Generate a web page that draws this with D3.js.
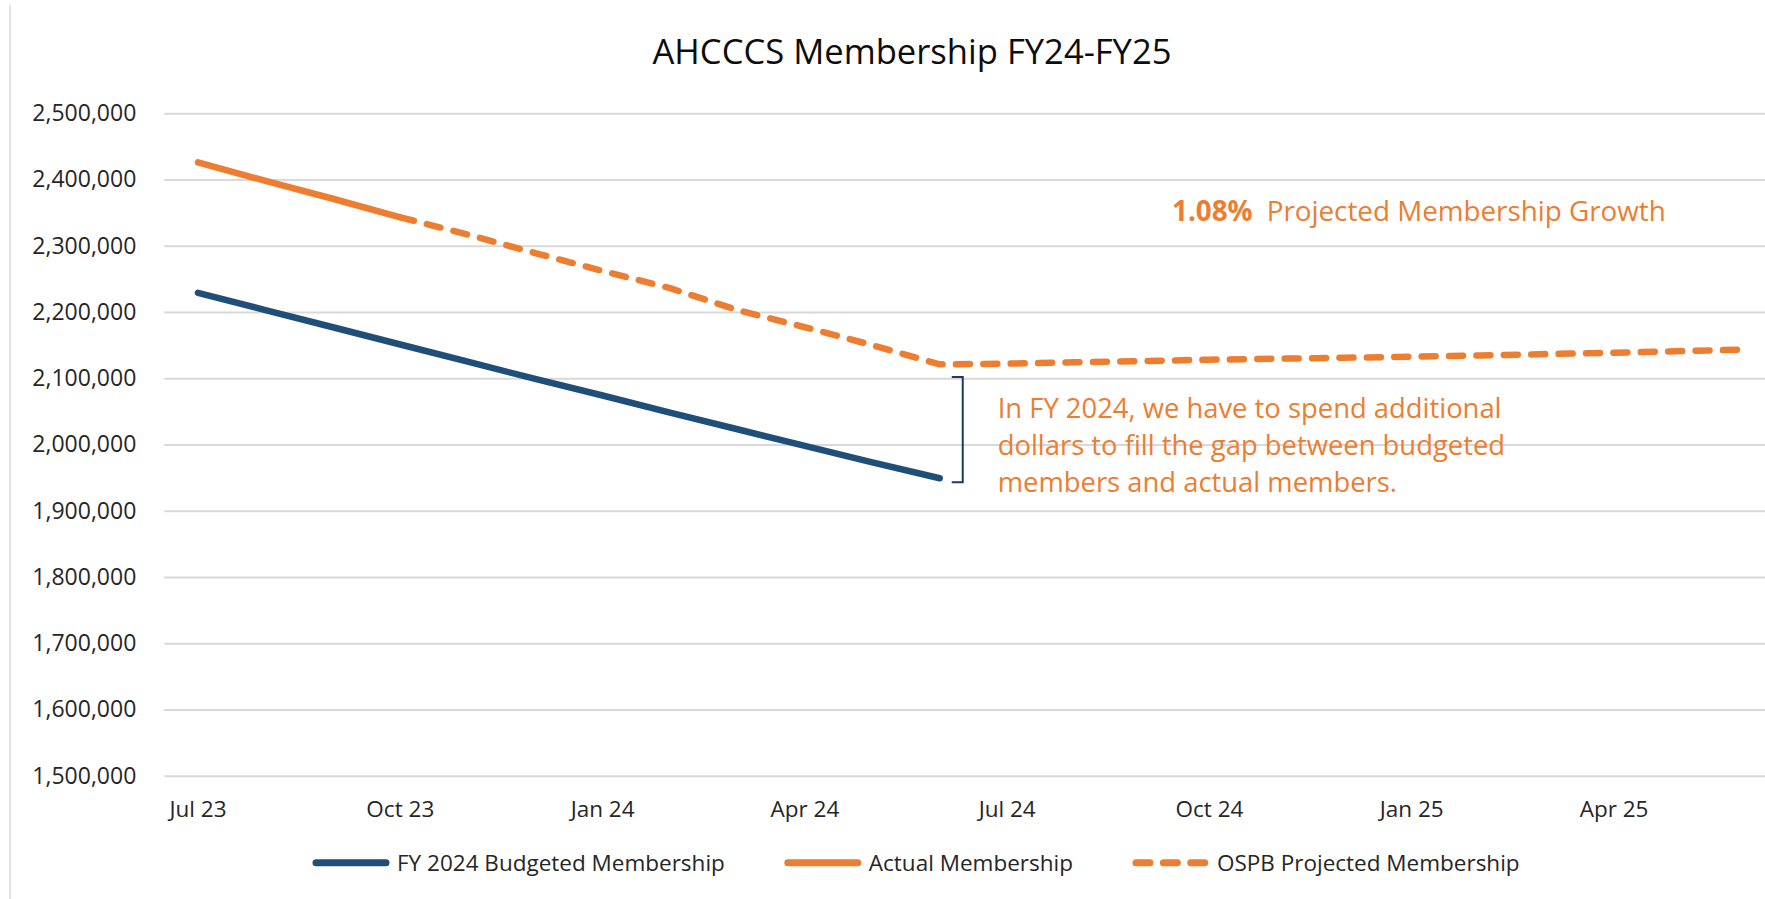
<!DOCTYPE html>
<html>
<head>
<meta charset="utf-8">
<script src="https://cdn.jsdelivr.net/npm/d3@7"></script>
<style>
  body { margin: 0; background: #fff; }
  text { font-family: "Open Sans", sans-serif; }
</style>
</head>
<body>
<div id="chart"></div>
<script>
// months on the x axis (Jul 23 .. Jun 25)
const months = ['Jul 23', 'Aug 23', 'Sep 23', 'Oct 23', 'Nov 23', 'Dec 23',
  'Jan 24', 'Feb 24', 'Mar 24', 'Apr 24', 'May 24', 'Jun 24',
  'Jul 24', 'Aug 24', 'Sep 24', 'Oct 24', 'Nov 24', 'Dec 24',
  'Jan 25', 'Feb 25', 'Mar 25', 'Apr 25', 'May 25', 'Jun 25'];
const tickMonths = ['Jul 23', 'Oct 23', 'Jan 24', 'Apr 24', 'Jul 24', 'Oct 24', 'Jan 25', 'Apr 25'];
const yTicks = [1500000, 1600000, 1700000, 1800000, 1900000, 2000000,
  2100000, 2200000, 2300000, 2400000, 2500000];

// FY 2024 Budgeted Membership, Jul 23 - Jun 24
const budgeted = [2229000, 2203000, 2177000, 2151000, 2125000, 2099000,
  2074000, 2048000, 2023000, 1998000, 1973000, 1949000];
// Actual Membership, Jul 23 - Oct 23
const actual = [2426000, 2398000, 2371000, 2343000];
// OSPB Projected Membership, Oct 23 - Jun 25
const projectedStart = 'Oct 23';
const projected = [2343000, 2317000, 2289000, 2262000, 2236000, 2203000,
  2177000, 2150000, 2121000, 2122000, 2124000, 2126000, 2128000, 2129500,
  2131000, 2132500, 2134500, 2136500, 2138500, 2141000, 2143500];

const legendLabels = ['FY 2024 Budgeted Membership', 'Actual Membership', 'OSPB Projected Membership'];

const W = 1765, H = 899;
const BLUE = '#1f4e79';
const ORANGE = '#ed7d31';
const NAVY = '#1f3864';
const GRID = '#d9d9d9';
const LABEL = '#262626';
const DASH = '14 13.4';
const LINE_W = 6.5;

const svg = d3.select('#chart').append('svg')
  .attr('width', W)
  .attr('height', H);

svg.append('rect').attr('width', W).attr('height', H).attr('fill', '#fff');

// chart frame (left edge visible only)
svg.append('line')
  .attr('x1', 10).attr('x2', 10)
  .attr('y1', 5).attr('y2', H)
  .attr('stroke', GRID).attr('stroke-width', 1.5);

const plotLeft = 164.3;
const x = d3.scaleBand()
  .domain(months)
  .range([plotLeft, plotLeft + months.length * 67.43])
  .paddingInner(0).paddingOuter(0);
const xc = m => x(m) + x.bandwidth() / 2;

const y = d3.scaleLinear()
  .domain([1500000, 2500000])
  .range([775.7, 113.3]);

// title
svg.append('text')
  .attr('x', 912)
  .attr('y', 64.3)
  .attr('text-anchor', 'middle')
  .attr('font-size', 34.6)
  .attr('fill', '#0d0d0d')
  .text('AHCCCS Membership FY24-FY25');

// gridlines + y labels
const yAxis = d3.axisLeft(y)
  .tickValues(yTicks)
  .tickFormat(d3.format(','))
  .tickSize(-(W - plotLeft))
  .tickPadding(28);

const gy = svg.append('g')
  .attr('transform', `translate(${plotLeft},0)`)
  .call(yAxis);
gy.select('.domain').remove();
gy.selectAll('.tick line').attr('stroke', GRID).attr('stroke-width', 2);
gy.selectAll('.tick text')
  .attr('font-size', 23)
  .attr('fill', LABEL)
  .attr('font-family', '"Open Sans", sans-serif');

// x labels
const xAxis = d3.axisBottom(x)
  .tickValues(tickMonths)
  .tickSize(0)
  .tickPadding(0);
const gx = svg.append('g')
  .attr('transform', 'translate(0,800)')
  .call(xAxis);
gx.select('.domain').remove();
gx.selectAll('.tick text')
  .attr('dy', null)
  .attr('y', 16.7)
  .attr('font-size', 22.5)
  .attr('fill', LABEL)
  .attr('font-family', '"Open Sans", sans-serif');

const line = d3.line()
  .x(d => xc(d.m))
  .y(d => y(d.v));

const toPts = (vals, start) => {
  const i0 = months.indexOf(start);
  return vals.map((v, i) => ({ m: months[i0 + i], v }));
};

svg.append('path')
  .datum(toPts(budgeted, 'Jul 23'))
  .attr('d', line)
  .attr('fill', 'none')
  .attr('stroke', BLUE)
  .attr('stroke-width', LINE_W)
  .attr('stroke-linecap', 'round')
  .attr('stroke-linejoin', 'round');

svg.append('path')
  .datum(toPts(actual, 'Jul 23'))
  .attr('d', line)
  .attr('fill', 'none')
  .attr('stroke', ORANGE)
  .attr('stroke-width', LINE_W)
  .attr('stroke-linecap', 'round')
  .attr('stroke-linejoin', 'round');

svg.append('path')
  .datum(toPts(projected, projectedStart))
  .attr('d', line)
  .attr('fill', 'none')
  .attr('stroke', ORANGE)
  .attr('stroke-width', LINE_W)
  .attr('stroke-dasharray', DASH)
  .attr('stroke-linecap', 'round')
  .attr('stroke-linejoin', 'round');

// gap bracket next to Jun 24
const bx = xc('Jun 24') + 23;
const bTop = y(2102000), bBot = y(1943000);
svg.append('path')
  .attr('d', `M${bx - 11},${bTop}H${bx}V${bBot}H${bx - 11}`)
  .attr('fill', 'none')
  .attr('stroke', NAVY)
  .attr('stroke-width', 2);

// gap note
const note = ['In FY 2024, we have to spend additional',
  'dollars to fill the gap between budgeted',
  'members and actual members.'];
svg.append('g').selectAll('text')
  .data(note)
  .enter()
  .append('text')
    .attr('x', 997.7)
    .attr('y', (d, i) => 417.7 + i * 37)
    .attr('font-size', 27.4)
    .attr('fill', ORANGE)
    .text(d => d);

// growth note
const growth = svg.append('text')
  .attr('x', 1172)
  .attr('y', 221)
  .attr('font-size', 27.8)
  .attr('fill', ORANGE);
growth.append('tspan').attr('font-weight', 'bold').text('1.08%');
growth.append('tspan').attr('dx', 14).text('Projected Membership Growth');

// legend
const legend = svg.append('g').attr('class', 'legend');
const styles = [
  { color: BLUE, dash: null },
  { color: ORANGE, dash: null },
  { color: ORANGE, dash: DASH }
];
let lx = 316;
const ly = 862.7;
legendLabels.forEach((label, i) => {
  legend.append('line')
    .attr('x1', lx).attr('x2', lx + 70)
    .attr('y1', ly).attr('y2', ly)
    .attr('stroke', styles[i].color)
    .attr('stroke-width', LINE_W + 0.5)
    .attr('stroke-linecap', 'round')
    .attr('stroke-dasharray', styles[i].dash);
  const t = legend.append('text')
    .attr('x', lx + 81)
    .attr('y', 870.7)
    .attr('font-size', 22.5)
    .attr('fill', LABEL)
    .text(label);
  lx += 81 + t.node().getComputedTextLength() + 63;
});
</script>
</body>
</html>
